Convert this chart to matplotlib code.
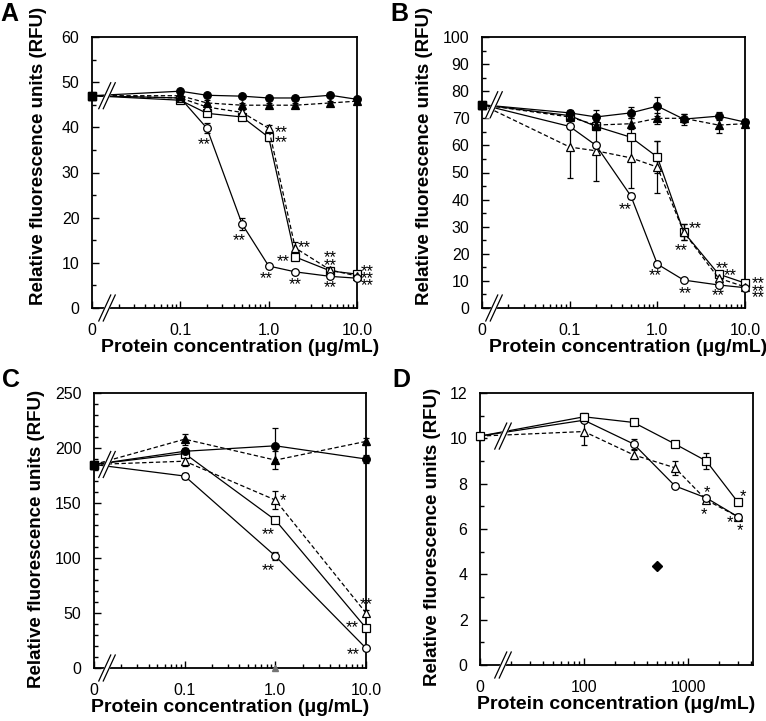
import numpy as np
import matplotlib
matplotlib.use('Agg')
import matplotlib.pyplot as plt
import matplotlib.transforms as mtransforms
from matplotlib.ticker import FixedLocator, FixedFormatter, NullFormatter

plt.rcParams['font.family'] = ['Liberation Sans', 'DejaVu Sans']

FIG_W, FIG_H = 766, 721

# ---------------- data ----------------
# Panel A
A_conc = [0, 0.1, 0.2, 0.5, 1, 2, 5, 10]
A_fc = [47, 48, 47.1, 46.9, 46.5, 46.5, 47.1, 46.2]
A_fc_err = [0, 0.4, 0.4, 0.4, 0.4, 0.4, 0.4, 0.4]
A_ft = [47, 47, 45.4, 44.9, 44.9, 44.9, 45.4, 45.8]
A_ft_err = [0, 0.4, 0.6, 0.5, 0.5, 0.5, 0.5, 0.4]
A_os = [47, 46, 43.1, 42.3, 37.8, 11.3, 8.2, 7.5]
A_os_err = [0, 0.4, 0.6, 0.6, 0.8, 0.6, 0.4, 0.4]
A_ot = [47, 46.5, 44.5, 43.3, 39.8, 13.3, 8.4, 7.1]
A_ot_err = [0, 0.4, 0.6, 0.6, 0.8, 1.4, 0.5, 0.4]
A_oc = [47, 46.5, 39.8, 18.6, 9.3, 8.0, 7.0, 6.6]
A_oc_err = [0, 0.4, 1.1, 1.4, 0.4, 0.4, 0.4, 0.4]
A_stars_x = [0.186, 0.47, 1.38, 1.38, 2.5, 1.47, 0.93, 2.0, 5.0, 5.0, 5.0, 13, 13, 13]
A_stars_y = [37.0, 15.7, 39.8, 37.6, 14.2, 11.1, 7.3, 6.0, 12.0, 10.2, 5.3, 8.9, 7.3, 5.8]
A_stars_t = ['**'] * 14

# Panel B
B_conc = [0, 0.1, 0.2, 0.5, 1, 2, 5, 10]
B_fc = [75, 72, 70.5, 72, 74.5, 69.7, 70.8, 68.6]
B_fc_err = [0, 1, 2.5, 2, 3.5, 2, 1.5, 1]
B_ft = [75, 70.5, 67.5, 68, 70, 70, 67.5, 68]
B_ft_err = [0, 1, 2, 2, 2, 1.5, 3, 1]
B_os = [75, 71, 67, 63, 55.7, 28, 12.5, 9.2]
B_os_err = [0, 1, 1, 1, 6, 3, 1, 0.5]
B_ot = [75, 59.4, 58, 55.4, 52, 28, 11, 7.8]
B_ot_err = [0, 11.5, 11, 11, 9.5, 3, 1, 0.5]
B_oc = [75, 67, 60, 41.3, 16.2, 10.3, 8.5, 7.5]
B_oc_err = [0, 1, 1, 1, 1, 0.5, 0.5, 0.5]
B_stars_x = [0.43, 0.95, 2.7, 1.87, 2.08, 5.5, 6.7, 4.9, 14, 14, 14]
B_stars_y = [37.6, 13.3, 30.6, 22.5, 6.6, 15.9, 13.3, 6.0, 10.3, 7.7, 5.2]
B_stars_t = ['**'] * 11

# Panel C
C_conc = [0, 0.1, 1, 10]
C_fc = [185, 197, 202, 190]
C_fc_err = [0, 3, 16, 4]
C_ft = [185, 208, 189, 206]
C_ft_err = [0, 5, 8, 3]
C_os = [185, 195, 134.5, 36.4]
C_os_err = [0, 3, 3, 3]
C_ot = [185, 188, 152.7, 50]
C_ot_err = [0, 4, 8, 3]
C_oc = [185, 174.5, 101.8, 18]
C_oc_err = [0, 3, 4, 2]
C_stars_x = [1.2, 0.84, 0.84, 10, 7.0, 7.2]
C_stars_y = [156, 125, 92, 61, 40, 16]
C_stars_t = ['*', '**', '**', '**', '**', '**']
C_grey_x = [1.0]
C_grey_y = [0]

# Panel D
D_conc = [0, 100, 300, 750, 1500, 3000]
D_os = [10.1, 10.95, 10.7, 9.75, 9.0, 7.2]
D_os_err = [0.05, 0.15, 0.05, 0.05, 0.35, 0.1]
D_oc = [10.1, 10.8, 9.75, 7.9, 7.37, 6.55]
D_oc_err = [0.05, 0.1, 0.2, 0.05, 0.1, 0.1]
D_ot = [10.1, 10.3, 9.27, 8.7, 7.28, 6.55]
D_ot_err = [0.05, 0.6, 0.2, 0.3, 0.15, 0.1]
D_diamond_x = [500]
D_diamond_y = [4.35]
D_stars_x = [1514, 1426, 3380, 2535, 3160]
D_stars_y = [7.8, 6.8, 7.6, 6.45, 6.1]
D_stars_t = ['*'] * 5

# ---------------- styles ----------------
DASH = (0, (3.5, 2))
STYLE = {
    'fc': dict(marker='o', mfc='black', ls='-'),
    'ft': dict(marker='^', mfc='black', ls=DASH),
    'os': dict(marker='s', mfc='white', ls='-'),
    'ot': dict(marker='^', mfc='white', ls=DASH),
    'oc': dict(marker='o', mfc='white', ls='-'),
}

fig = plt.figure(figsize=(FIG_W / 100, FIG_H / 100), dpi=100)


def px_rect(l, t, r, b):
    return [l / FIG_W, 1 - b / FIG_H, (r - l) / FIG_W, (b - t) / FIG_H]


def setup_axes(ax, lo, hi, ymax, ystep, yminor, majors, labels, minors):
    fwd = lambda c: np.log10(np.maximum(np.asarray(c, dtype=float), lo))
    inv = lambda p: np.power(10.0, p)
    ax.set_xscale('function', functions=(fwd, inv))
    ax.set_xlim(lo, hi)
    ax.set_ylim(0, ymax)
    ax.xaxis.set_major_locator(FixedLocator(majors))
    ax.xaxis.set_major_formatter(FixedFormatter(labels))
    ax.xaxis.set_minor_locator(FixedLocator(minors))
    ax.xaxis.set_minor_formatter(NullFormatter())
    ax.set_yticks(np.arange(0, ymax + 0.01, ystep))
    ax.set_yticks(np.arange(0, ymax + 0.01, yminor), minor=True)
    ax.tick_params(which='both', direction='in', top=False, right=False,
                   width=1, labelsize=11.5)
    ax.tick_params(which='major', length=5)
    ax.tick_params(which='minor', length=3)
    ax.tick_params(axis='x', pad=11)
    ax.tick_params(axis='y', pad=9)
    for s in ax.spines.values():
        s.set_linewidth(1.3)
    ax.set_xlabel('Protein concentration (μg/mL)', fontsize=14, fontweight='bold')
    ax.set_ylabel('Relative fluorescence units (RFU)', fontsize=13.5, fontweight='bold')


def series(ax, x, y, err, key):
    st = STYLE[key]
    c = ax.errorbar(x, y, yerr=err, color='black', lw=0.9, ls=st['ls'],
                    marker=st['marker'], mfc=st['mfc'], mec='black', mew=0.9,
                    ms=5.5, capsize=2.5, elinewidth=0.9, capthick=0.9, zorder=3)
    c[0].set_clip_on(False)
    for cap in c[1]:
        cap.set_clip_on(False)
    for bar in c[2]:
        bar.set_clip_on(False)
        bar.set_linestyle('solid')


def slashes(ax, xpx, yval, ymax, dx=6, dy=13, gap=4.5):
    bb = ax.get_position()
    wpx, hpx = bb.width * FIG_W, bb.height * FIG_H
    xf = xpx / wpx
    yf = yval / ymax
    x0, x1 = xf - gap / 2 / wpx, xf + gap / 2 / wpx
    ax.fill([x0 - dx / wpx, x1 - dx / wpx, x1 + dx / wpx, x0 + dx / wpx],
            [yf - dy / hpx, yf - dy / hpx, yf + dy / hpx, yf + dy / hpx],
            color='white', transform=ax.transAxes, clip_on=False, zorder=5)
    for xx in (x0, x1):
        ax.plot([xx - dx / wpx, xx + dx / wpx], [yf - dy / hpx, yf + dy / hpx],
                color='black', lw=0.9, transform=ax.transAxes, clip_on=False, zorder=6)


def stars(ax, xs, ys, ts):
    tr = mtransforms.offset_copy(ax.transData, fig=fig, x=0, y=-4, units='dots')
    for x, y, t in zip(xs, ys, ts):
        ax.text(x, y, t, transform=tr, ha='center', va='center', fontsize=12)


small_minors = [0.02, 0.03, 0.04, 0.05, 0.06, 0.07, 0.08, 0.09,
                0.2, 0.3, 0.4, 0.5, 0.6, 0.7, 0.8, 0.9,
                2, 3, 4, 5, 6, 7, 8, 9]
small_majors = [0.01, 0.1, 1, 10]
small_labels = ['0', '0.1', '1.0', '10.0']

# ---------------- panel A ----------------
axA = fig.add_axes(px_rect(92, 37, 357, 308))
setup_axes(axA, 0.01, 10, 60, 10, 5, small_majors, small_labels, small_minors)
for key, y, e in [('os', A_os, A_os_err), ('ot', A_ot, A_ot_err), ('oc', A_oc, A_oc_err),
                  ('ft', A_ft, A_ft_err), ('fc', A_fc, A_fc_err)]:
    series(axA, A_conc, y, e, key)
axA.plot(A_conc[:1], A_fc[:1], 's', color='black', ms=6, clip_on=False, zorder=4)
slashes(axA, 15, A_fc[0], 60)
slashes(axA, 15, 0, 60)
stars(axA, A_stars_x, A_stars_y, A_stars_t)
axA.xaxis.set_label_coords(0.56, -0.113)
axA.yaxis.set_label_coords(-0.17, 0.56)

# ---------------- panel B ----------------
axB = fig.add_axes(px_rect(482, 37, 745, 308))
setup_axes(axB, 0.01, 10, 100, 10, 5, small_majors, small_labels, small_minors)
for key, y, e in [('os', B_os, B_os_err), ('ot', B_ot, B_ot_err), ('oc', B_oc, B_oc_err),
                  ('ft', B_ft, B_ft_err), ('fc', B_fc, B_fc_err)]:
    series(axB, B_conc, y, e, key)
axB.plot(B_conc[:1], B_fc[:1], 's', color='black', ms=6, clip_on=False, zorder=4)
slashes(axB, 12, B_fc[0], 100)
slashes(axB, 12, 0, 100)
stars(axB, B_stars_x, B_stars_y, B_stars_t)
axB.xaxis.set_label_coords(0.555, -0.113)
axB.yaxis.set_label_coords(-0.186, 0.56)

# ---------------- panel C ----------------
axC = fig.add_axes(px_rect(94, 393, 366, 668))
setup_axes(axC, 0.01, 10, 250, 50, 10, small_majors, small_labels, small_minors)
for key, y, e in [('os', C_os, C_os_err), ('ot', C_ot, C_ot_err), ('oc', C_oc, C_oc_err),
                  ('ft', C_ft, C_ft_err), ('fc', C_fc, C_fc_err)]:
    series(axC, C_conc, y, e, key)
axC.plot(C_conc[:1], C_fc[:1], 's', color='black', ms=6, clip_on=False, zorder=4)
axC.plot(C_grey_x, C_grey_y, '^', color='0.45', ms=4, clip_on=False, zorder=4)
slashes(axC, 13, C_fc[0], 250)
slashes(axC, 13, 0, 250)
stars(axC, C_stars_x, C_stars_y, C_stars_t)
axC.xaxis.set_label_coords(0.50, -0.113)
axC.yaxis.set_label_coords(-0.18, 0.47)

# ---------------- panel D ----------------
axD = fig.add_axes(px_rect(480, 393, 753, 665))
D_minors = [20, 30, 40, 50, 60, 70, 80, 90,
            200, 300, 400, 500, 600, 700, 800, 900, 2000, 3000, 4000]
setup_axes(axD, 10, 10 ** 3.625, 12, 2, 1, [10, 100, 1000], ['0', '100', '1000'], D_minors)
for key, y, e in [('ot', D_ot, D_ot_err), ('oc', D_oc, D_oc_err), ('os', D_os, D_os_err)]:
    series(axD, D_conc, y, e, key)
axD.plot(D_diamond_x, D_diamond_y, 'D', color='black', ms=5, zorder=4)
slashes(axD, 23, D_os[0], 12)
slashes(axD, 23, 0, 12)
stars(axD, D_stars_x, D_stars_y, D_stars_t)
axD.xaxis.set_label_coords(0.50, -0.113)
axD.yaxis.set_label_coords(-0.143, 0.47)

# ---------------- panel letters ----------------
for letter, x, y in [('A', 0, 2), ('B', 390, 2), ('C', 2, 368), ('D', 392, 368)]:
    fig.text(x / FIG_W, 1 - y / FIG_H, letter, fontsize=18, fontweight='bold',
             ha='left', va='top')

fig.savefig('out.png', dpi=100)
